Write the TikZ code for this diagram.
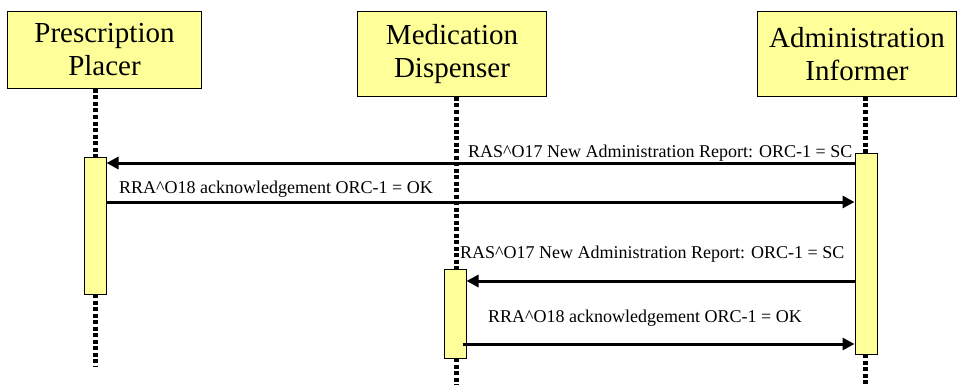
\documentclass[tikz,border=0pt]{standalone}
\usepackage{fontspec}
\setmainfont{Liberation Serif}
\usetikzlibrary{arrows.meta}
\definecolor{boxfill}{HTML}{FFFF99}
\tikzset{
  actor/.style={draw=black, line width=1pt, fill=boxfill, anchor=north west, inner sep=0pt,
    align=center, font=\fontsize{29}{33}\selectfont},
  actbar/.style={draw=black, line width=1pt, fill=boxfill, inner sep=0pt, minimum width=22pt, anchor=north},
  lifeline/.style={line width=5pt, dash pattern=on 4pt off 2.5pt, black},
  msg/.style={line width=3pt, -{Triangle[length=12pt,width=12pt]}},
  msglabel/.style={anchor=base west, inner sep=0pt, font=\fontsize{18}{20}\selectfont}
}
\begin{document}
\begin{tikzpicture}[x=1pt,y=-1pt]
\useasboundingbox (0,0) rectangle (957,385);
% actors
\node[actor, minimum width=194pt, minimum height=77pt] (pp) at (7,11) {Prescription\\Placer};
\node[actor, minimum width=189pt, minimum height=85pt] (md) at (357,11) {Medication\\Dispenser};
\node[actor, minimum width=199pt, minimum height=85pt] (ai) at (757,11) {Administration\\Informer};
% lifeline ends
\coordinate (e1) at (95,367);
\coordinate (e2) at (456,385);
\coordinate (e3) at (865,385);
% activation bar anchors
\coordinate (b1) at (95,157);
\coordinate (b2) at (455,269);
\coordinate (b3) at (866,153);
% lifelines
\draw[lifeline] (pp.south -| b1) -- (b1);
\draw[lifeline] (md.south -| e2) -- (e2 |- b2);
\draw[lifeline] (ai.south -| e3) -- (e3 |- b3);
\draw[lifeline] (b1 |- 0,294) -- (e1);
\draw[lifeline] (e2 |- 0,358) -- (e2);
\draw[lifeline] (e3 |- 0,354) -- (e3);
% labels
\node[msglabel] (l1) at (468,157) {RAS\^{}O17 New Administration Report: ORC-1 = SC};
\node[msglabel] (l2) at (119,193) {RRA\^{}O18 acknowledgement ORC-1 = OK};
\node[msglabel] (l3) at (460,258) {RAS\^{}O17 New Administration Report: ORC-1 = SC};
\node[msglabel] (l4) at (488,322) {RRA\^{}O18 acknowledgement ORC-1 = OK};
% activation bars
\node[actbar, minimum height=137pt] (bar1) at (b1) {};
\node[actbar, minimum height=89pt] (bar2) at (b2) {};
\node[actbar, minimum height=201pt] (bar3) at (b3) {};
% messages
\draw[msg] (bar3.west |- 0,163) -- (bar1.east |- 0,163);
\draw[msg] (bar1.east |- 0,202) -- (bar3.west |- 0,202);
\draw[msg] (bar3.west |- 0,281) -- (bar2.east |- 0,281);
\draw[msg] ([xshift=-4pt]bar2.east |- 0,344) -- (bar3.west |- 0,344);
\end{tikzpicture}
\end{document}
